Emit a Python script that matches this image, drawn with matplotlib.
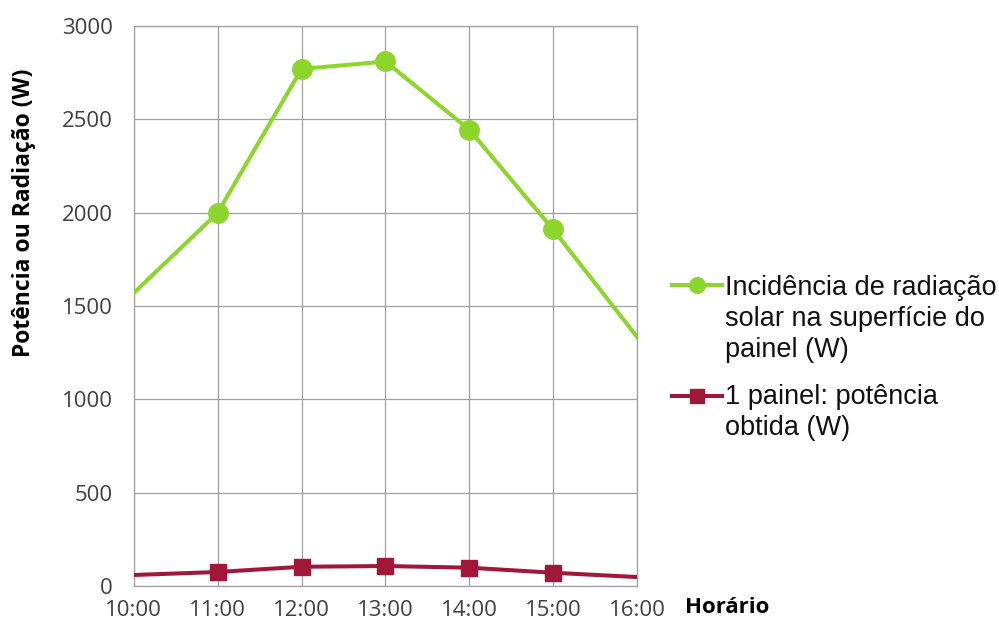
import matplotlib.pyplot as plt

horas = ["10:00", "11:00", "12:00", "13:00", "14:00", "15:00", "16:00"]
radiacao = [1570, 2000, 2770, 2810, 2445, 1910, 1335]
potencia = [59, 75, 103, 107, 98, 71, 48]

label_rad = "Incidência de radiação\nsolar na superfície do\npainel (W)"
label_pot = "1 painel: potência\nobtida (W)"

fig = plt.figure(figsize=(9.99, 6.27), dpi=100)
ax = fig.add_axes([0.134, 0.0654, 0.5036, 0.8931])

x = list(range(len(horas)))
l_rad, = ax.plot(x, radiacao, color="#8CD52A", lw=2.9, marker="o", ms=14,
                 markevery=slice(1, 6), zorder=3)
l_pot, = ax.plot(x, potencia, color="#A0173A", lw=2.9, marker="s", ms=12,
                 markevery=slice(1, 6), zorder=3)

ax.set_xlim(0, 6)
ax.set_ylim(0, 3000)
ax.set_xticks(x)
ax.set_xticklabels(horas)
ax.set_yticks(range(0, 3001, 500))
ax.grid(True, color="#A0A0A0", lw=0.9)
for s in ax.spines.values():
    s.set_color("#A0A0A0")
    s.set_linewidth(0.9)
ax.tick_params(length=0, labelsize=16, labelcolor="#404040")
ax.tick_params(axis="x", pad=10)
ax.tick_params(axis="y", pad=15)
for t in ax.get_xticklabels() + ax.get_yticklabels():
    t.set_fontfamily("Open Sans")

ax.set_ylabel("Potência ou Radiação (W)", fontsize=16.5, fontweight="bold",
              fontfamily="Open Sans")
ax.yaxis.set_label_coords(-0.195, 0.666)
fig.text(0.686, 0.031, "Horário", fontsize=16, fontweight="bold",
         fontfamily="Open Sans", va="center")

# legend: handles via legend, text placed beside the first line
for h, yh in [(l_rad, 0.5410), (l_pot, 0.3640)]:
    fig.legend(handles=[h], labels=[""], loc="center left",
               bbox_to_anchor=(0.6727, yh), frameon=False, fontsize=19.5,
               handlelength=1.85, borderpad=0, borderaxespad=0,
               markerscale=0.8)
fig.text(0.7257, 0.5620, label_rad, fontsize=19.5, fontfamily="Liberation Sans",
         va="top", linespacing=1.25, color="#111111")
fig.text(0.7257, 0.3880, label_pot, fontsize=19.5, fontfamily="Liberation Sans",
         va="top", linespacing=1.25, color="#111111")

fig.savefig("out.png", dpi=100)
